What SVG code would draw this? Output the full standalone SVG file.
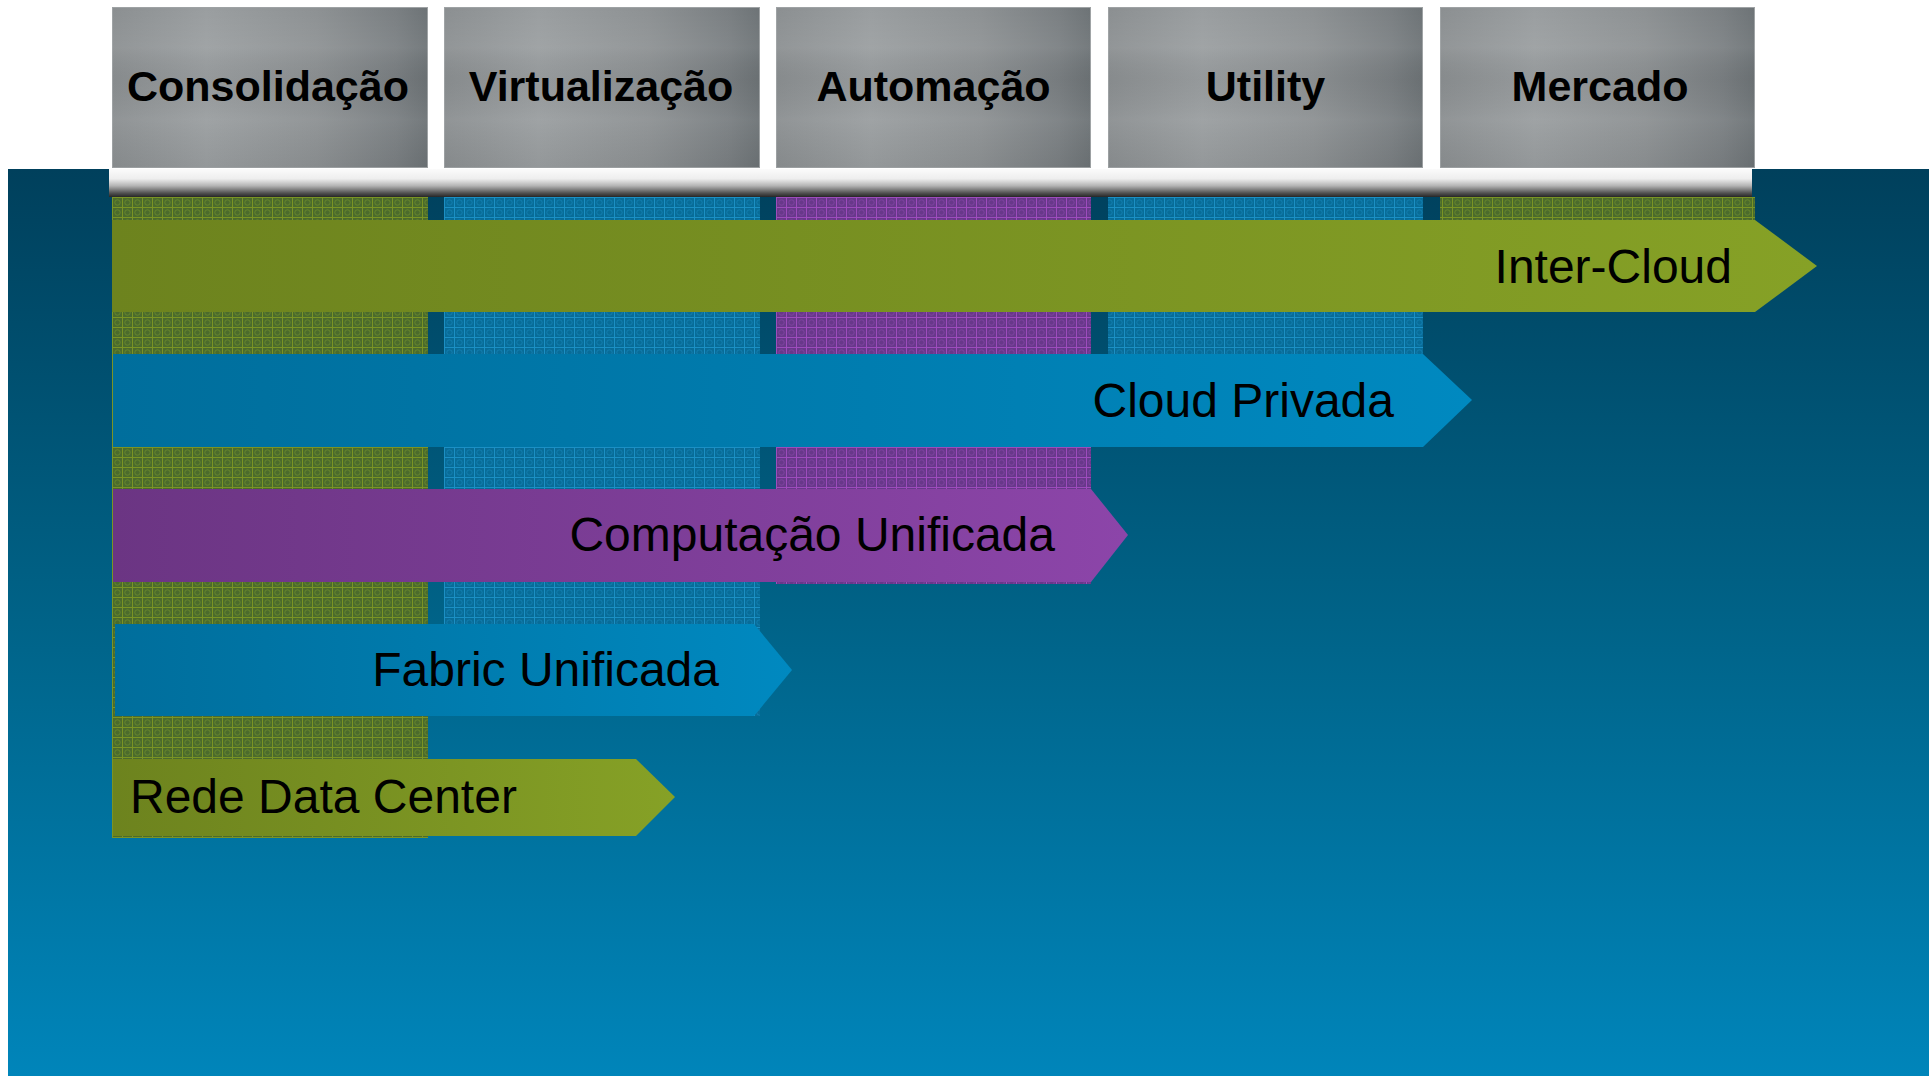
<svg xmlns="http://www.w3.org/2000/svg" width="1932" height="1076" viewBox="0 0 1932 1076">
  <defs>
    <style>
      .stage { font-family: "Liberation Sans", Arial, sans-serif; font-size: 43px; font-weight: bold; fill: #000; text-anchor: middle; }
      .band { font-family: "Liberation Sans", Arial, sans-serif; font-size: 48px; fill: #000; }
      .box { fill: url(#steel); stroke: #9ea2a4; stroke-width: 1; }
      .sheen { fill: url(#steelSheen); }
    </style>

    <!-- panel background -->
    <linearGradient id="panel" x1="0" y1="169" x2="0" y2="1076" gradientUnits="userSpaceOnUse">
      <stop offset="0" stop-color="#00405c"/>
      <stop offset="0.5" stop-color="#006388"/>
      <stop offset="1" stop-color="#0085ba"/>
    </linearGradient>

    <!-- brushed steel header tiles -->
    <linearGradient id="steel" x1="0" y1="0" x2="1" y2="0">
      <stop offset="0" stop-color="#8b8f91"/>
      <stop offset="0.3" stop-color="#9a9ea0"/>
      <stop offset="0.65" stop-color="#8d9193"/>
      <stop offset="0.9" stop-color="#7a7f82"/>
      <stop offset="1" stop-color="#6d7376"/>
    </linearGradient>
    <linearGradient id="steelSheen" x1="0" y1="0" x2="0" y2="1">
      <stop offset="0" stop-color="#ffffff" stop-opacity="0"/>
      <stop offset="0.25" stop-color="#ffffff" stop-opacity="0.06"/>
      <stop offset="0.45" stop-color="#000000" stop-opacity="0.03"/>
      <stop offset="0.7" stop-color="#ffffff" stop-opacity="0.05"/>
      <stop offset="1" stop-color="#000000" stop-opacity="0.04"/>
    </linearGradient>

    <!-- glossy rail under the headers -->
    <linearGradient id="rail" x1="0" y1="0" x2="0" y2="1">
      <stop offset="0" stop-color="#fbfbfb"/>
      <stop offset="0.35" stop-color="#eeeeee"/>
      <stop offset="0.6" stop-color="#b4b4b4"/>
      <stop offset="0.85" stop-color="#555555"/>
      <stop offset="1" stop-color="#262626"/>
    </linearGradient>

    <!-- band fills -->
    <linearGradient id="greenBand" x1="0" y1="0" x2="1" y2="0">
      <stop offset="0" stop-color="#6d831e"/>
      <stop offset="1" stop-color="#86a126"/>
    </linearGradient>
    <linearGradient id="blueBand" x1="0" y1="0" x2="1" y2="0">
      <stop offset="0" stop-color="#006e9c"/>
      <stop offset="1" stop-color="#0089c0"/>
    </linearGradient>
    <linearGradient id="purpleBand" x1="0" y1="0" x2="1" y2="0">
      <stop offset="0" stop-color="#6b3583"/>
      <stop offset="1" stop-color="#8c45a9"/>
    </linearGradient>

    <!-- column textures -->
    <pattern id="hatchGreen" width="10" height="10" x="112" y="197" patternUnits="userSpaceOnUse">
      <rect width="10" height="10" fill="#4b6b2c"/>
      <path d="M0 0.5H10M0.5 0V10" stroke="#7a9424" stroke-width="1"/>
      <circle cx="5.5" cy="5.5" r="2.7" fill="none" stroke="#68872a" stroke-width="0.9"/>
    </pattern>
    <pattern id="hatchBlue" width="10" height="10" x="444" y="197" patternUnits="userSpaceOnUse">
      <rect width="10" height="10" fill="#086c98"/>
      <path d="M0 0.5H10M0.5 0V10" stroke="#1b8fc4" stroke-width="1"/>
      <circle cx="5.5" cy="5.5" r="2.7" fill="none" stroke="#127fb2" stroke-width="0.9"/>
    </pattern>
    <pattern id="hatchPurple" width="10" height="10" x="776" y="197" patternUnits="userSpaceOnUse">
      <rect width="10" height="10" fill="#68388a"/>
      <path d="M0 0.5H10M0.5 0V10" stroke="#9d4cbd" stroke-width="1"/>
      <circle cx="5.5" cy="5.5" r="2.7" fill="none" stroke="#7f42a2" stroke-width="0.9"/>
    </pattern>
  </defs>

  <rect width="1932" height="1076" fill="#ffffff"/>

  <!-- dark blue stage panel -->
  <rect id="panel-bg" x="8" y="169" width="1921" height="907" fill="url(#panel)"/>

  <!-- textured columns behind the bands -->
  <g id="columns">
    <rect x="112" y="197" width="316" height="641" fill="url(#hatchGreen)"/>
    <rect x="444" y="197" width="316" height="519" fill="url(#hatchBlue)"/>
    <rect x="776" y="197" width="315" height="387" fill="url(#hatchPurple)"/>
    <rect x="1108" y="197" width="315" height="250" fill="url(#hatchBlue)"/>
    <rect x="1440" y="197" width="315" height="115" fill="url(#hatchGreen)"/>
  </g>

  <!-- header stages -->
  <g id="stage-consolidacao">
    <rect class="box" x="112.5" y="7.5" width="315" height="160"/>
    <rect class="sheen" x="112.5" y="7.5" width="315" height="160"/>
    <text class="stage" x="268" y="101">Consolidação</text>
  </g>
  <g id="stage-virtualizacao">
    <rect class="box" x="444.5" y="7.5" width="315" height="160"/>
    <rect class="sheen" x="444.5" y="7.5" width="315" height="160"/>
    <text class="stage" x="601" y="101">Virtualização</text>
  </g>
  <g id="stage-automacao">
    <rect class="box" x="776.5" y="7.5" width="314" height="160"/>
    <rect class="sheen" x="776.5" y="7.5" width="314" height="160"/>
    <text class="stage" x="933.5" y="101">Automação</text>
  </g>
  <g id="stage-utility">
    <rect class="box" x="1108.5" y="7.5" width="314" height="160"/>
    <rect class="sheen" x="1108.5" y="7.5" width="314" height="160"/>
    <text class="stage" x="1265.5" y="101">Utility</text>
  </g>
  <g id="stage-mercado">
    <rect class="box" x="1440.5" y="7.5" width="314" height="160"/>
    <rect class="sheen" x="1440.5" y="7.5" width="314" height="160"/>
    <text class="stage" x="1600" y="101">Mercado</text>
  </g>

  <!-- glossy rail -->
  <rect id="rail" x="109" y="169" width="1643" height="28" fill="url(#rail)"/>

  <!-- technology bands -->
  <g id="band-inter-cloud">
    <polygon points="112,220 1755,220 1817,266 1755,312 112,312" fill="url(#greenBand)"/>
    <text class="band" x="1732" y="283" text-anchor="end">Inter-Cloud</text>
  </g>
  <g id="band-cloud-privada">
    <polygon points="113,354 1423,354 1472,400 1423,447 113,447" fill="url(#blueBand)"/>
    <text class="band" x="1394" y="417" text-anchor="end">Cloud Privada</text>
  </g>
  <g id="band-computacao-unificada">
    <polygon points="113,489 1091,489 1128,535 1091,582 113,582" fill="url(#purpleBand)"/>
    <text class="band" x="1055" y="551" text-anchor="end">Computação Unificada</text>
  </g>
  <g id="band-fabric-unificada">
    <polygon points="115,624 754,624 792,670 754,716 115,716" fill="url(#blueBand)"/>
    <text class="band" x="719" y="686" text-anchor="end">Fabric Unificada</text>
  </g>
  <g id="band-rede-data-center">
    <polygon points="113,759 636,759 675,797 636,836 113,836" fill="url(#greenBand)"/>
    <text class="band" x="130" y="813">Rede Data Center</text>
  </g>
</svg>
